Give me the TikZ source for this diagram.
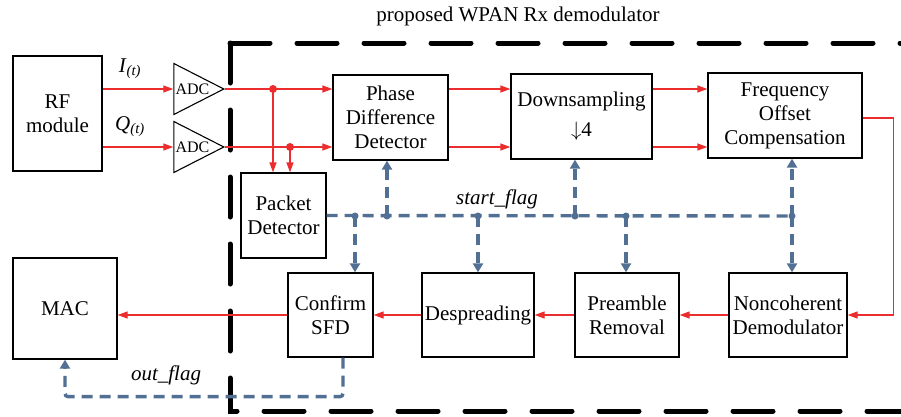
\documentclass[tikz,border=0pt]{standalone}
\usepackage{fontspec}
\setmainfont{Liberation Serif}
\usetikzlibrary{arrows.meta,shapes.geometric}
\definecolor{sigred}{RGB}{236,45,45}
\definecolor{flagblue}{RGB}{82,112,148}
\tikzset{
    block/.style = {draw, line width = 1.3pt, align = center, inner sep = 0pt},
    adc/.style = {draw, line width = 1.1pt, isosceles triangle, isosceles triangle stretches, inner sep = 0pt,
        minimum width = 51pt, minimum height = 50pt, font = \fontsize{16}{18}\selectfont},
    sig/.style = {draw = sigred, line width = 1.3pt, -{Triangle[length = 10pt, width = 7pt]}},
    flag/.style = {draw = flagblue, line width = 3.4pt, dash pattern = on 11pt off 7pt,
        -{Triangle[length = 9pt, width = 10pt]}},
    flagline/.style = {draw = flagblue, line width = 3.4pt, dash pattern = on 11pt off 7pt},
    reddot/.style = {circle, fill = sigred, inner sep = 0pt, minimum size = 8pt},
    bluedot/.style = {circle, fill = flagblue, inner sep = 0pt, minimum size = 7pt},
    frame/.style = {line width = 5pt, line cap = round, dash pattern = on 40pt off 27pt}
}
\begin{document}
\begin{tikzpicture}[x = 1pt, y = -1pt, every node/.append style = {font = \fontsize{21}{24}\selectfont}]
    \useasboundingbox (0,0) rectangle (901,416);
    \node (title) at (518,16) {proposed WPAN Rx demodulator};
    \draw[frame] (230,43) -- (905,43);
    \draw[frame] (230,43) -- (230,411) -- (905,411);
    \node[block, minimum width = 89pt, minimum height = 115pt] (rf) at (57.5,113.5) {RF\\module};
    \node[adc] (adci) at (192.5,89) {ADC};
    \node[adc] (adcq) at (192.5,147) {ADC};
    \node[block, minimum width = 115pt, minimum height = 85pt] (pdd) at (390.5,117.5) {Phase\\Difference\\Detector};
    \node[block, minimum width = 141pt, minimum height = 85pt] (down) at (581.5,116.5) {Downsampling\\[6pt]$\downarrow$4};
    \node[block, minimum width = 154pt, minimum height = 85pt] (foc) at (785,115.5) {Frequency\\Offset\\Compensation};
    \node[block, minimum width = 85pt, minimum height = 85pt] (pkt) at (283.5,215.5) {Packet\\Detector};
    \node[block, minimum width = 104pt, minimum height = 101pt] (mac) at (65,308.5) {MAC};
    \node[block, minimum width = 85pt, minimum height = 84pt] (sfd) at (330.5,315) {Confirm\\SFD};
    \node[block, minimum width = 112pt, minimum height = 84pt] (desp) at (478,315) {Despreading};
    \node[block, minimum width = 104pt, minimum height = 84pt] (pre) at (627,315) {Preamble\\Removal};
    \node[block, minimum width = 118pt, minimum height = 84pt] (ncd) at (788,315) {Noncoherent\\Demodulator};
    \node (ilabel) at (130,69) {\textit{I}\textsubscript{\textit{(t)}}};
    \node (qlabel) at (130,127) {\textit{Q}\textsubscript{\textit{(t)}}};
    \node (startlabel) at (497,199) {\textit{start\_flag}};
    \node (outlabel) at (166,375) {\textit{out\_flag}};
    \begin{scope}
        \draw[sig] (rf.east |- adci.west) -- (adci.west);
        \draw[sig] (rf.east |- adcq.west) -- (adcq.west);
        \draw[sig] (adci.apex) -- (pdd.west |- adci.apex);
        \draw[sig] (adcq.apex) -- (pdd.west |- adcq.apex);
        \node[reddot] (ji) at (273,89) {};
        \node[reddot] (jq) at (290,147) {};
        \draw[sig] (ji.center) -- (ji |- pkt.north);
        \draw[sig] (jq.center) -- (jq |- pkt.north);
        \draw[sig] (pdd.east |- adci.apex) -- (down.west |- adci.apex);
        \draw[sig] (pdd.east |- adcq.apex) -- (down.west |- adcq.apex);
        \draw[sig] (down.east |- adci.apex) -- (foc.west |- adci.apex);
        \draw[sig] (down.east |- adcq.apex) -- (foc.west |- adcq.apex);
        \draw[sig] ([yshift = -2.5pt]foc.east) -- ++(31,0) |- (ncd.east);
        \draw[sig] (ncd.west) -- (pre.east);
        \draw[sig] (pre.west) -- (desp.east);
        \draw[sig] (desp.west) -- (sfd.east);
        \draw[sig] (sfd.west) -- (mac.east |- sfd.west);
    \end{scope}
    \begin{scope}
        \node[bluedot] (fsfd) at (355,216) {};
        \node[bluedot] (fpdd) at (387,216) {};
        \node[bluedot] (fdesp) at (478,216) {};
        \node[bluedot] (fdown) at (575,216) {};
        \node[bluedot] (fpre) at (626,216) {};
        \node[bluedot] (ffoc) at (792,216) {};
        \draw[flagline] (pkt.east) -- (ffoc.center);
        \draw[flag] (fpdd.center) -- (fpdd |- pdd.south);
        \draw[flag] (fdown.center) -- (fdown |- down.south);
        \draw[flag] (ffoc.center) -- (ffoc |- foc.south);
        \draw[flag] (fsfd.center) -- (fsfd |- sfd.north);
        \draw[flag] (fdesp.center) -- (fdesp |- desp.north);
        \draw[flag] (fpre.center) -- (fpre |- pre.north);
        \draw[flag] (ffoc.center) -- (ffoc |- ncd.north);
        \draw[flag, rounded corners = 3pt] ([xshift = 12.5pt]sfd.south) -- ++(0,39) -| (mac.south);
    \end{scope}
\end{tikzpicture}
\end{document}
